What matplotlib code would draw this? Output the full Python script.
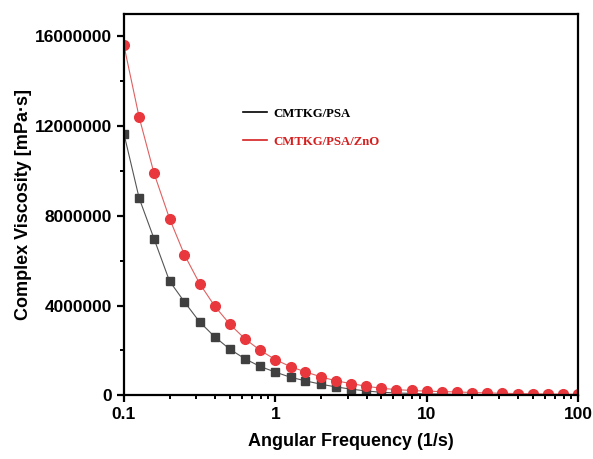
import numpy as np
import matplotlib
matplotlib.use("Agg")
import matplotlib.pyplot as plt
from matplotlib import ticker

# angular frequency, 10 points per decade
freq = [0.1, 0.126, 0.158, 0.2, 0.251, 0.316, 0.398, 0.501, 0.631, 0.794,
        1.0, 1.26, 1.58, 2.0, 2.51, 3.16, 3.98, 5.01, 6.31, 7.94,
        10.0, 12.6, 15.8, 20.0, 25.1, 31.6, 39.8, 50.1, 63.1, 79.4, 100.0]

# complex viscosity [mPa·s]
visc_psa = [11.66e6, 8.79e6, 6.98e6, 5.09e6, 4.16e6, 3.27e6, 2.60e6, 2.05e6, 1.62e6, 1.28e6,
            1.03e6, 0.80e6, 0.64e6, 0.49e6, 0.37e6, 0.27e6, 0.19e6, 0.13e6, 0.10e6, 0.08e6,
            0.06e6, 0.05e6, 0.04e6, 0.035e6, 0.03e6, 0.025e6, 0.02e6, 0.018e6, 0.015e6, 0.013e6, 0.011e6]
visc_zno = [15.6e6, 12.4e6, 9.9e6, 7.88e6, 6.26e6, 4.98e6, 3.97e6, 3.16e6, 2.51e6, 2.0e6,
            1.59e6, 1.27e6, 1.04e6, 0.82e6, 0.64e6, 0.52e6, 0.40e6, 0.31e6, 0.25e6, 0.21e6,
            0.18e6, 0.16e6, 0.145e6, 0.12e6, 0.10e6, 0.085e6, 0.072e6, 0.062e6, 0.054e6, 0.047e6, 0.04e6]

labels = ["CMTKG/PSA", "CMTKG/PSA/ZnO"]

fig = plt.figure(figsize=(5.93, 4.59), dpi=100)
ax = fig.add_axes([0.209, 0.139, 0.766, 0.8305])

ax.plot(freq, visc_psa, color="#555555", lw=0.8, marker="s", ms=5.8,
        mfc="#404040", mec="#404040")
ax.plot(freq, visc_zno, color="#e06060", lw=0.8, marker="o", ms=7,
        mfc="#e8383d", mec="#e8383d")

ax.set_xscale("log")
ax.set_xlim(0.1, 100)
ax.set_ylim(0, 17e6)

ax.yaxis.set_major_locator(ticker.MultipleLocator(4e6))
ax.yaxis.set_minor_locator(ticker.MultipleLocator(2e6))
ax.yaxis.set_major_formatter(ticker.FuncFormatter(lambda v, p: f"{int(v)}"))
ax.xaxis.set_major_formatter(ticker.FuncFormatter(lambda v, p: f"{v:g}"))
ax.xaxis.set_minor_formatter(ticker.NullFormatter())

for s in ax.spines.values():
    s.set_linewidth(1.6)
ax.tick_params(which="major", direction="out", length=5, width=1.6,
               labelsize=12.5, top=False, right=False)
ax.tick_params(which="minor", direction="out", length=3, width=1.4,
               top=False, right=False)
for t in ax.get_xticklabels() + ax.get_yticklabels():
    t.set_fontweight("bold")
    t.set_family("Liberation Sans")

ax.set_xlabel("Angular Frequency (1/s)", fontsize=13, fontweight="bold",
              family="Liberation Sans", labelpad=8)
ax.set_ylabel("Complex Viscosity [mPa·s]", fontsize=13, fontweight="bold",
              family="Liberation Sans", labelpad=2)

handles = [plt.Line2D([], [], color="black", lw=1.2),
           plt.Line2D([], [], color="#d42020", lw=1.2)]
leg = ax.legend(handles, labels, loc="upper left", bbox_to_anchor=(0.251, 0.768),
                frameon=False, handlelength=1.9, handletextpad=0.45,
                labelspacing=1.25, borderaxespad=0,
                prop={"family": "Liberation Serif", "weight": "bold", "size": 9.2})
leg.get_texts()[1].set_color("#d42020")

fig.savefig("out.png", dpi=100)
